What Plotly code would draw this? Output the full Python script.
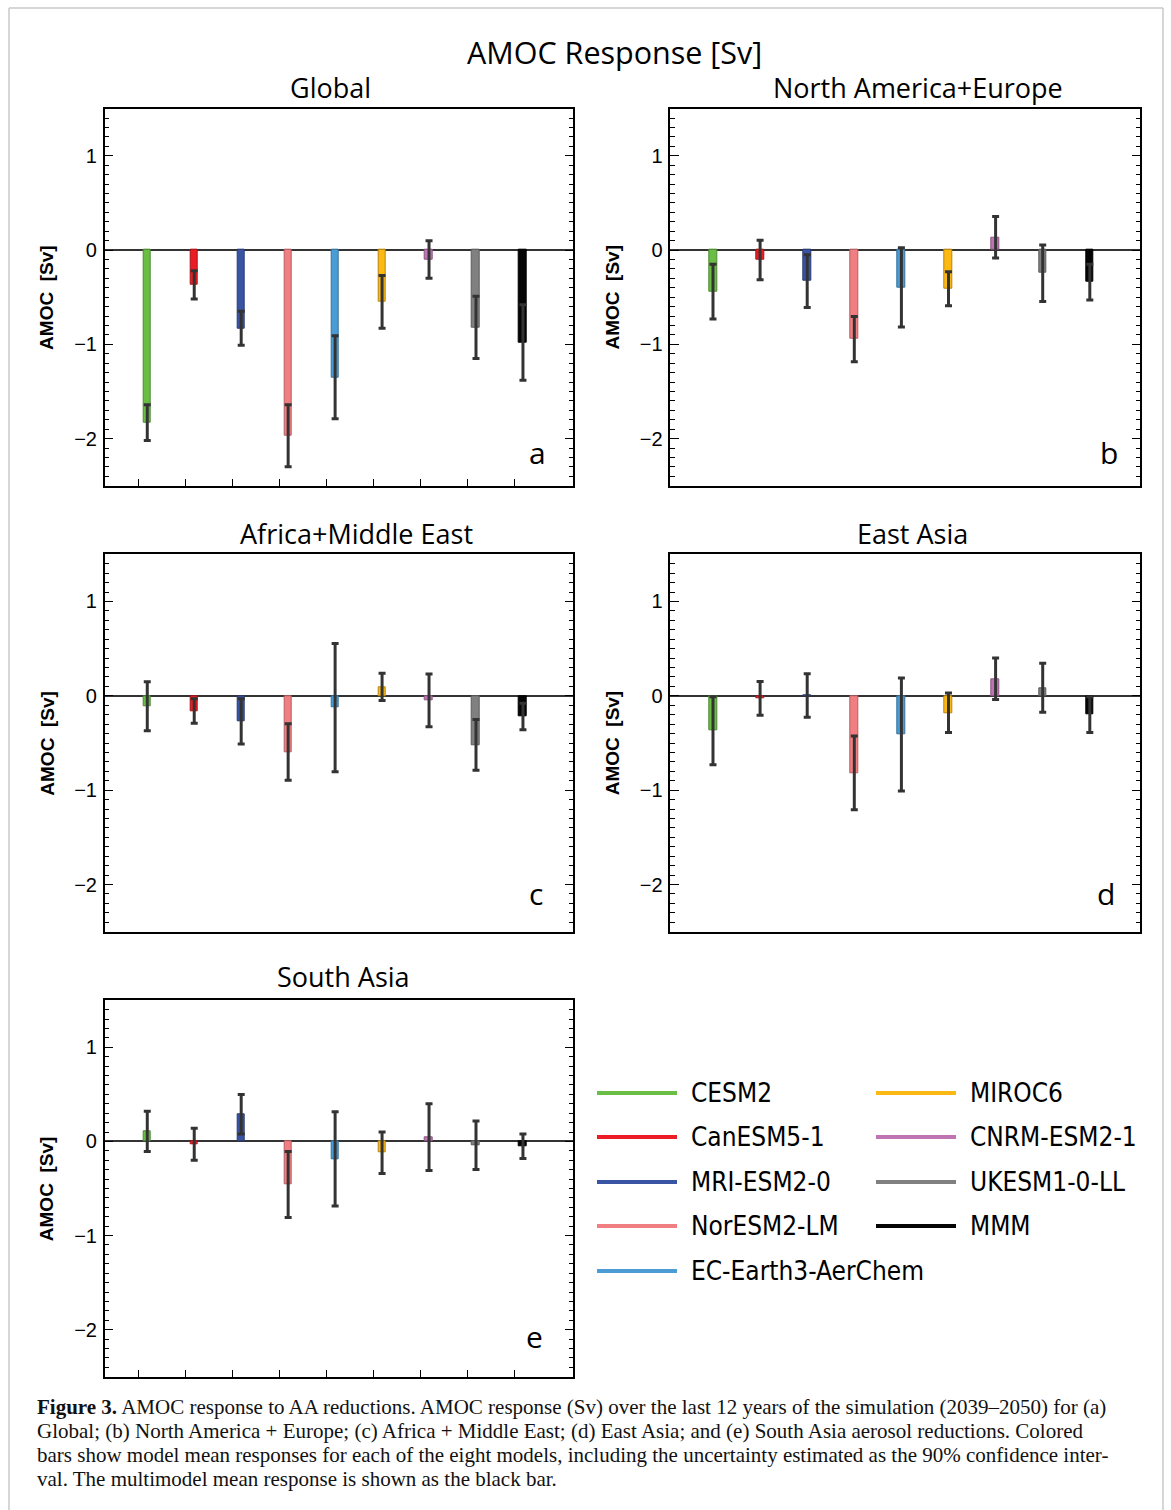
import plotly.graph_objects as go

W, H = 1171, 1510

# ---------------- data ----------------
models = ["CESM2", "CanESM5-1", "MRI-ESM2-0", "NorESM2-LM", "EC-Earth3-AerChem",
          "MIROC6", "CNRM-ESM2-1", "UKESM1-0-LL", "MMM"]
regions = ["Global", "North America+Europe", "Africa+Middle East", "East Asia", "South Asia"]
panel_letters = ["a", "b", "c", "d", "e"]

global_mean = [-1.83, -0.37, -0.83, -1.97, -1.35, -0.55, -0.10, -0.82, -0.98]
global_err = [0.19, 0.15, 0.18, 0.33, 0.44, 0.28, 0.20, 0.33, 0.40]

nae_mean = [-0.44, -0.105, -0.33, -0.945, -0.395, -0.41, 0.135, -0.245, -0.34]
nae_err = [0.29, 0.21, 0.28, 0.24, 0.42, 0.18, 0.22, 0.30, 0.19]

ame_mean = [-0.11, -0.16, -0.27, -0.595, -0.125, 0.095, -0.048, -0.52, -0.22]
ame_err = [0.26, 0.13, 0.24, 0.30, 0.68, 0.145, 0.28, 0.27, 0.14]

ea_mean = [-0.37, -0.027, 0.003, -0.817, -0.41, -0.18, 0.18, 0.085, -0.20]
ea_err = [0.36, 0.18, 0.23, 0.39, 0.60, 0.21, 0.22, 0.26, 0.19]

sa_mean = [0.107, -0.03, 0.29, -0.457, -0.185, -0.12, 0.046, -0.04, -0.05]
sa_err = [0.213, 0.17, 0.21, 0.35, 0.50, 0.22, 0.355, 0.257, 0.13]

y_tickvals = [-2, -1, 0, 1]

caption_lines = [
    "<b>Figure 3.</b> AMOC response to AA reductions. AMOC response (Sv) over the last 12 years of the simulation (2039–2050) for (a)",
    "Global; (b) North America + Europe; (c) Africa + Middle East; (d) East Asia; and (e) South Asia aerosol reductions. Colored",
    "bars show model mean responses for each of the eight models, including the uncertainty estimated as the 90% confidence inter-",
    "val. The multimodel mean response is shown as the black bar.",
]

# ---------------- style ----------------
colors = ["#6abd45", "#ec1c24", "#3a54a4", "#f17f82", "#4b9bd4",
          "#fcb813", "#bf74b3", "#808080", "#050505"]
edge_colors = ["#4d8a32", "#a8141a", "#283b74", "#b55e61", "#36719b",
               "#b7860e", "#8b5483", "#5c5c5c", "#000000"]

panel_means = [global_mean, nae_mean, ame_mean, ea_mean, sa_mean]
panel_errs = [global_err, nae_err, ame_err, ea_err, sa_err]

# panel boxes in pixels: left, right, top, bottom
boxes = [(104.7, 573.3, 108.7, 485.7), (670.3, 1140.3, 108.7, 485.7),
         (104.7, 573.3, 554.3, 931.7), (670.3, 1140.3, 554.3, 931.7),
         (104.7, 573.3, 1000.3, 1376.7)]
title_pos = [(330, 87), (918, 87), (356, 533), (912, 533), (343, 976)]
letter_pos = [(537, 452), (1109, 452), (536, 893), (1106, 893), (534, 1336)]
xticks_on = [True, False, False, False, True]
caption_y = [1407, 1431, 1455, 1479]


def px(x):
    return x / W


def py(y):
    return 1 - y / H


fig = go.Figure()
xpos = [i + 1 + 0.183 for i in range(len(models))]
BASE = "Liberation Sans, Arial, sans-serif"
TITLE = "Open Sans, Noto Sans, sans-serif"

annotations = []
shapes = []
for k in range(5):
    sfx = "" if k == 0 else str(k + 1)
    fig.add_trace(go.Bar(
        x=xpos, y=panel_means[k], width=0.165,
        marker=dict(color=colors, line=dict(color=edge_colors, width=1)),
        error_y=dict(type="data", array=panel_errs[k], color="#333333",
                     thickness=3, width=3.5),
        xaxis="x" + sfx, yaxis="y" + sfx, showlegend=False,
        hovertext=models,
    ))
    l, r, t, b = boxes[k]
    fig.update_layout(**{
        "xaxis" + sfx: dict(
            domain=[px(l), px(r)], anchor="y" + sfx, range=[0.2766, 10.255],
            tickvals=list(range(1, 10)), showticklabels=False,
            ticks="inside" if xticks_on[k] else "", ticklen=7, tickwidth=1.3,
            tickcolor="black", showline=True, linecolor="black", linewidth=1.5,
            mirror=True, showgrid=False, zeroline=False, fixedrange=True),
        "yaxis" + sfx: dict(
            domain=[py(b), py(t)], anchor="x" + sfx, range=[-2.5, 1.5],
            tickvals=y_tickvals, ticks="inside", ticklen=9, tickwidth=1.3,
            tickcolor="black", mirror="allticks", showline=True,
            linecolor="black", linewidth=1.5, showgrid=False,
            zeroline=True, zerolinecolor="#333333", zerolinewidth=1.8,
            minor=dict(dtick=0.1, tick0=0, ticks="inside", ticklen=5,
                       tickwidth=1, tickcolor="black", showgrid=False),
            tickfont=dict(family=BASE, size=20, color="black"),
            ticklabelstandoff=2, fixedrange=True),
    })
    # panel title
    annotations.append(dict(text=regions[k], x=px(title_pos[k][0]), y=py(title_pos[k][1]),
                            xref="paper", yref="paper", xanchor="center", yanchor="middle",
                            showarrow=False, font=dict(family=TITLE, size=27, color="black")))
    # panel letter
    annotations.append(dict(text=panel_letters[k], x=px(letter_pos[k][0]), y=py(letter_pos[k][1]),
                            xref="paper", yref="paper", xanchor="center", yanchor="middle",
                            showarrow=False, font=dict(family=TITLE, size=30, color="black")))
    # y axis title
    annotations.append(dict(text="AMOC\u00a0 [Sv]", x=px(l - 58), y=py((t + b) / 2),
                            xref="paper", yref="paper", xanchor="center", yanchor="middle",
                            textangle=-90, showarrow=False,
                            font=dict(family=BASE, size=19, color="black", weight="bold")))

# main title
annotations.append(dict(text="AMOC Response [Sv]", x=px(614), y=py(52), xref="paper", yref="paper",
                        xanchor="center", yanchor="middle", showarrow=False,
                        font=dict(family=TITLE, size=30.5, color="black")))

# legend (drawn manually, two columns)
LEG = "Liberation Sans Narrow, DejaVu Sans Condensed, sans-serif"
leg_rows = [1093, 1137, 1182, 1226, 1271]
for i, name in enumerate(models):
    col = 0 if i < 5 else 1
    row = i if i < 5 else i - 5
    x0 = 597 if col == 0 else 876
    yy = leg_rows[row]
    shapes.append(dict(type="line", xref="paper", yref="paper",
                       x0=px(x0), x1=px(x0 + 80), y0=py(yy), y1=py(yy),
                       line=dict(color=colors[i], width=4)))
    annotations.append(dict(text=name, x=px(x0 + 92), y=py(yy), xref="paper", yref="paper",
                            xanchor="left", yanchor="middle", showarrow=False,
                            font=dict(family=LEG, size=26, color="black")))

# caption, one annotation per line for exact line spacing
for j, line in enumerate(caption_lines):
    annotations.append(dict(text=line, x=px(35), y=py(caption_y[j]), xref="paper", yref="paper",
                            xanchor="left", yanchor="middle", align="left", showarrow=False,
                            font=dict(family="Liberation Serif, Times New Roman, serif", size=21,
                                      color="#111111")))

# outer light frame
frame_col = "#c8c8c8"
shapes.append(dict(type="line", xref="paper", yref="paper", x0=px(9), x1=px(9),
                   y0=py(8), y1=0, line=dict(color=frame_col, width=1.5)))
shapes.append(dict(type="line", xref="paper", yref="paper", x0=px(1163), x1=px(1163),
                   y0=py(8), y1=0, line=dict(color=frame_col, width=1.5)))
shapes.append(dict(type="line", xref="paper", yref="paper", x0=px(9), x1=px(1163),
                   y0=py(8), y1=py(8), line=dict(color=frame_col, width=1.5)))

fig.update_layout(
    width=W, height=H, margin=dict(l=0, r=0, t=0, b=0),
    paper_bgcolor="white", plot_bgcolor="white",
    annotations=annotations, shapes=shapes, showlegend=False,
    bargap=0,
)

fig.write_html("out.html")
